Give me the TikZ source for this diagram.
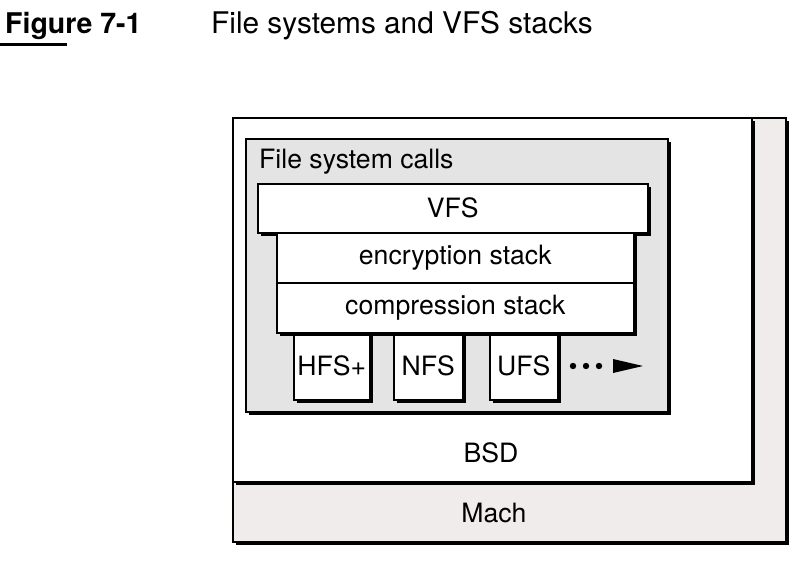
\documentclass[tikz,border=0pt]{standalone}
\usepackage{fontspec}
\setmainfont{TeX Gyre Heros}
\usetikzlibrary{shadows}
\definecolor{fscgrey}{HTML}{E4E4E4}
\definecolor{machgrey}{HTML}{F0ECEC}
\tikzset{
  box/.style={draw=black, line width=1.6pt, fill=white, inner sep=0pt, anchor=north west,
    drop shadow={shadow xshift=3.5pt, shadow yshift=-3.5pt, fill=black, opacity=1},
    font=\fontsize{26.6}{30}\selectfont},
  lbl/.style={inner sep=0pt, font=\fontsize{26.6}{30}\selectfont},
}
\begin{document}
\begin{tikzpicture}[x=1pt,y=-1pt]
\useasboundingbox[fill=white] (0,0) rectangle (800,564);
% title
\node[inner sep=0pt, anchor=base west, font=\fontsize{28.5}{32}\bfseries] (fig) at (5,34) {Figure 7-1};
\node[inner sep=0pt, anchor=base west, font=\fontsize{29.8}{32}\selectfont] (title) at (211,34) {File systems and VFS stacks};
\fill (0,43) rectangle (67,46);
% Mach
\node[box, fill=machgrey, minimum width=553pt, minimum height=424pt] (mach) at (232,117) {};
\node[lbl] (machl) at (494,513) {Mach};
% BSD
\node[box, minimum width=519pt, minimum height=364pt] (bsd) at (232,117) {};
\node[lbl] (bsdl) at (491,453) {BSD};
% File system calls
\node[box, fill=fscgrey, minimum width=422pt, minimum height=273pt] (fsc) at (245,138) {};
\node[lbl, anchor=base west] (fscl) at (259,169) {File system calls};
% stacks
\node[box, minimum width=390pt, minimum height=49pt] (vfs) at (257,183) {VFS};
\node[box, minimum width=357pt, minimum height=50pt] (enc) at (276,232) {encryption stack};
\node[box, minimum width=76pt, minimum height=67pt] (hfs) at (293,332) {HFS+};
\node[box, minimum width=69pt, minimum height=67pt] (nfs) at (393,332) {NFS};
\node[box, minimum width=68pt, minimum height=67pt] (ufs) at (489,332) {UFS};
\node[box, minimum width=357pt, minimum height=50pt] (comp) at (276,282) {compression stack};
% dots and arrow
\coordinate (more) at (643,366);
\foreach \x in {573,586,599} \fill (\x,366) circle (3.2pt);
\fill (more) -- (613,359) -- (613,373) -- cycle;
\end{tikzpicture}
\end{document}
